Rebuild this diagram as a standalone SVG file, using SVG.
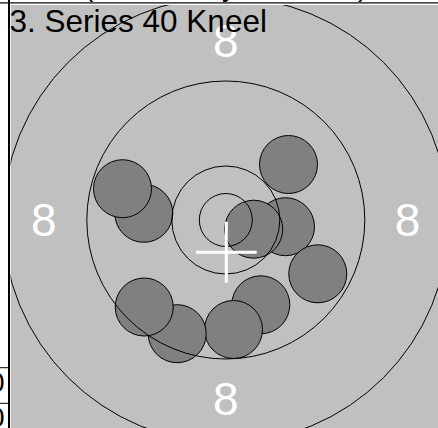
<svg xmlns="http://www.w3.org/2000/svg" width="438" height="428" viewBox="0 0 438 428">
  <style>
    .ring { fill: none; stroke: #000; stroke-width: 1; }
    .shot { fill: #808080; stroke: #000; stroke-width: 1; }
    .num { fill: #fff; font-family: "Liberation Sans", Arial, sans-serif; font-size: 46px; text-anchor: middle; }
    .title { fill: #000; font-family: "Liberation Sans", Arial, sans-serif; font-size: 31.5px; }
    .frag { fill: #000; font-family: "Liberation Sans", Arial, sans-serif; font-size: 28px; }
    .cross { stroke: #fff; stroke-width: 3; fill: none; }
  </style>
  <defs>
    <clipPath id="panel"><rect x="10.5" y="5" width="427.5" height="423"/></clipPath>
    <clipPath id="leftcol"><rect x="0" y="0" width="8" height="428"/></clipPath>
    <clipPath id="topstrip"><rect x="0" y="0" width="438" height="2.5"/></clipPath>
  </defs>
  <rect width="438" height="428" fill="#fff"/>
  <g id="frame">
    <rect x="0" y="2.3" width="438" height="1.2" fill="#000"/>
    <rect x="8" y="0" width="2" height="428" fill="#000"/>
    <rect x="0" y="367.2" width="8" height="1" fill="#000"/>
    <rect x="0" y="402.8" width="8" height="1" fill="#000"/>
    <g clip-path="url(#leftcol)">
      <text class="frag" x="4.5" y="391.6" text-anchor="end">0</text>
      <text class="frag" x="4.5" y="427" text-anchor="end">0</text>
    </g>
    <g clip-path="url(#topstrip)">
      <text class="frag" x="84" y="-4">(</text>
      <text class="frag" x="222" y="-4">y</text>
      <text class="frag" x="358" y="-4">)</text>
    </g>
  </g>
  <g id="target" clip-path="url(#panel)">
    <rect x="10.5" y="5" width="427.5" height="423" fill="#c0c0c0"/>
    <g id="ring-numbers">
      <text class="num" x="225.8" y="57.2">8</text>
      <text class="num" x="43.7" y="235.7">8</text>
      <text class="num" x="407.5" y="235.7">8</text>
      <text class="num" x="225.8" y="415">8</text>
    </g>
    <g id="shots">
      <circle id="shot2" class="shot" cx="143.8" cy="213.3" r="29"/>
      <circle id="shot1" class="shot" cx="122.5" cy="188.7" r="29"/>
      <circle id="shot3" class="shot" cx="288.5" cy="164.5" r="29"/>
      <circle id="shot5" class="shot" cx="285.5" cy="226.7" r="29"/>
      <circle id="shot4" class="shot" cx="253.7" cy="229.2" r="29"/>
      <circle id="shot6" class="shot" cx="317.8" cy="273.8" r="29"/>
      <circle id="shot7" class="shot" cx="260.8" cy="304.8" r="29"/>
      <circle id="shot8" class="shot" cx="233.5" cy="329.5" r="29"/>
      <circle id="shot10" class="shot" cx="177.2" cy="333.7" r="29"/>
      <circle id="shot9" class="shot" cx="144.2" cy="307" r="29"/>
    </g>
    <g id="rings">
      <circle class="ring" cx="225.8" cy="220" r="223"/>
      <circle class="ring" cx="225.8" cy="220" r="139"/>
      <circle class="ring" cx="225.8" cy="220" r="54"/>
      <circle class="ring" cx="225.8" cy="220" r="26.5"/>
    </g>
    <g id="center-cross">
      <line class="cross" x1="226.3" y1="221.7" x2="226.3" y2="282.7"/>
      <line class="cross" x1="196" y1="252.3" x2="256.7" y2="252.3"/>
    </g>
    <text id="title" class="title" x="9.5" y="31.6">3. Series 40 Kneel</text>
  </g>
</svg>
